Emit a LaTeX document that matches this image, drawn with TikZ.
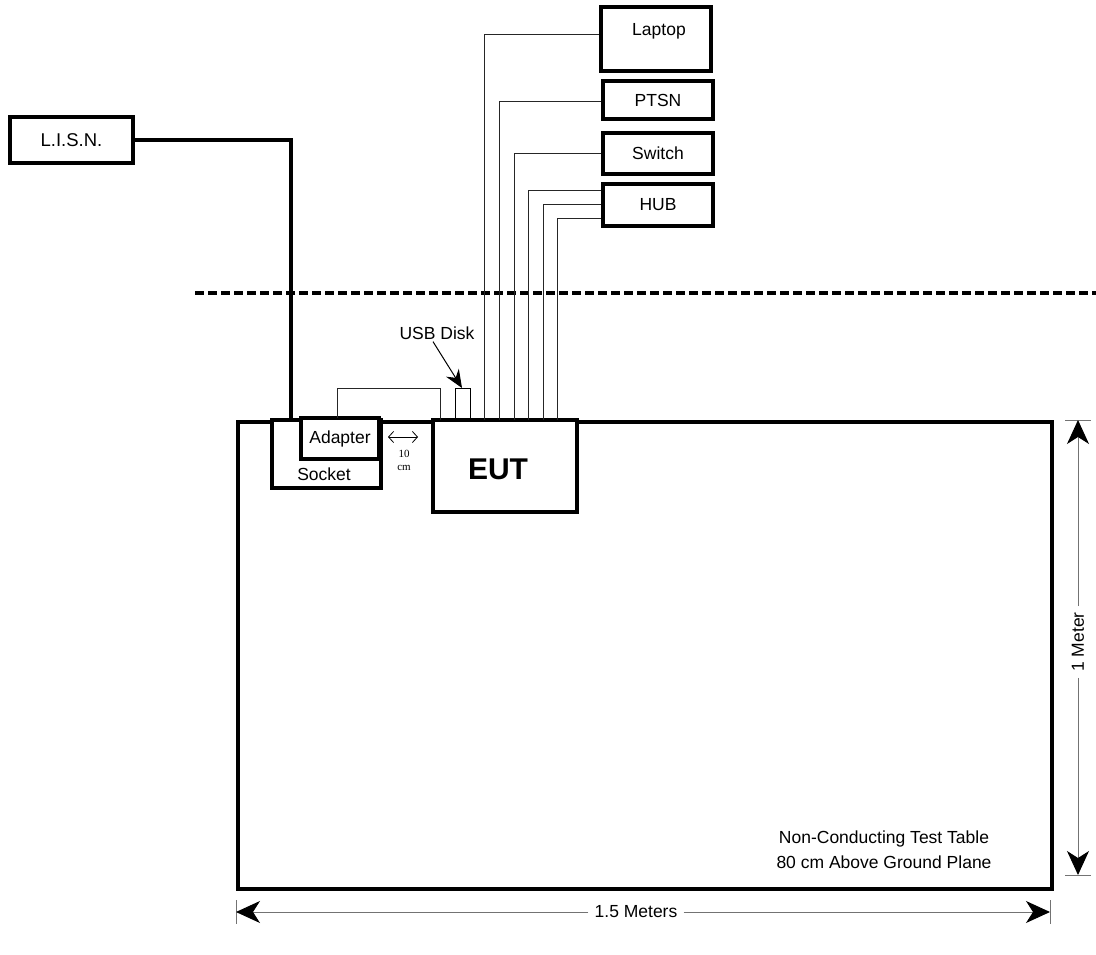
\documentclass[tikz,border=0pt]{standalone}
\usepackage{fontspec}
\setmainfont{Liberation Sans}
\newfontfamily\smallserif{Liberation Serif}
\usetikzlibrary{arrows.meta}
\begin{document}
\begin{tikzpicture}[x=1pt,y=-1pt,
  every node/.style={font=\fontsize{17.5}{21}\selectfont, inner sep=0pt},
  devbox/.style={draw, line width=4pt, fill=white, minimum width=110pt},
  smallbox/.style={draw, line width=3.3pt, fill=white},
  cable/.style={line width=1pt, draw=black!85},
  dimline/.style={line width=1pt, draw=black!55},
  bighead/.style={-{Stealth[length=24pt,width=22pt,inset=7pt,black]}},
  txt/.style={fill=none}]
\useasboundingbox (0,0) rectangle (1096,955);

% table
\node[draw, line width=4pt, minimum width=814pt, minimum height=467pt, anchor=north west] (table) at (236,420) {};
\node[align=center, font=\fontsize{17.5}{25}\selectfont] (tabletext) at (884,850) {Non-Conducting Test Table\\80 cm Above Ground Plane};

% dashed boundary
\coordinate (dashL) at (195,293);
\coordinate (dashR) at (1096,293);
\draw[line width=3.5pt, dash pattern=on 9pt off 4pt] (dashL) -- (dashR);

% LISN
\node[draw, line width=3.5pt, fill=white, minimum width=123pt, minimum height=46pt, font=\fontsize{18.5}{21}\selectfont] (lisn) at (71.5,140) {L.I.S.N.};

% socket and adapter
\node[smallbox, minimum width=109pt, minimum height=68pt] (socket) at (326.5,454) {};
\node (sockettext) at (324,474) {Socket};
\node[smallbox, minimum width=78pt, minimum height=41pt] (adapter) at (340,438.5) {Adapter};
\coordinate (lisnin) at (291,420);
\draw[line width=3.5pt] (lisn.east) -| (lisnin);

% EUT
\node[draw, line width=3.5pt, fill=white, minimum width=144pt, minimum height=92pt] (eut) at (505,466) {};
\node[font=\fontsize{30}{34}\selectfont\bfseries] (euttext) at (498,469) {EUT};

% 10 cm spacing
\coordinate (gapL) at (388,437);
\coordinate (gapR) at (418,437);
\draw[line width=0.8pt, {Straight Barb[length=5pt,width=11pt]}-{Straight Barb[length=5pt,width=11pt]}] (gapL) -- (gapR);
\node[font=\smallserif\fontsize{11}{12}\selectfont, align=center] (gaptext) at (404,460) {10\\[1pt]cm};

% adapter cable
\coordinate (adout) at (337,418);
\coordinate (eutin) at (440,420);
\draw[cable] (adout) -- ++(0,-30) -| (eutin);

% USB disk
\node[draw, line width=1pt, minimum width=15pt, minimum height=32pt, anchor=north west] (usb) at (455,388) {};
\node (usbtext) at (437,333) {USB Disk};
\draw[line width=1pt, -{Stealth[length=18pt,width=15pt,inset=6pt]}] (usbtext.south) ++(-4,2) coordinate (usbarrow) -- ([xshift=-1pt]usb.north);

% peripheral boxes
\node[devbox, minimum height=64pt] (laptop) at (656,39) {};
\node (laptoptext) at (659,31) {Laptop};
\node[devbox, minimum height=38pt] (ptsn) at (658,100) {PTSN};
\node[devbox, minimum height=41pt] (switch) at (658,153.5) {Switch};
\node[devbox, minimum height=42pt] (hub) at (658,205) {HUB};

% EUT ports
\coordinate (p1) at (484,420);
\coordinate (p2) at (499,420);
\coordinate (p3) at (514,420);
\coordinate (p4) at (528,420);
\coordinate (p5) at (543,420);
\coordinate (p6) at (557,420);
\draw[cable] ([yshift=4pt]laptop.west) -| (p1);
\draw[cable] ([yshift=-2pt]ptsn.west) -| (p2);
\draw[cable] (switch.west) -| (p3);
\draw[cable] ([yshift=14pt]hub.west) -| (p4);
\draw[cable] (hub.west) -| (p5);
\draw[cable] ([yshift=-14pt]hub.west) -| (p6);

% vertical dimension
\coordinate (vtop) at (1078,420);
\coordinate (vbot) at (1078,875);
\draw[dimline] (1065,420) -- (1091,420);
\draw[dimline] (1065,875) -- (1091,875);
\node[rotate=90, fill=white, inner xsep=6pt, inner ysep=2pt] (vlabel) at (1078,642) {1 Meter};
\draw[dimline, bighead] (vlabel.east) -- (vtop);
\draw[dimline, bighead] (vlabel.west) -- (vbot);

% horizontal dimension
\coordinate (hleft) at (236,912);
\coordinate (hright) at (1050,912);
\draw[dimline] (236,900) -- (236,924);
\draw[dimline] (1050,900) -- (1050,924);
\node[fill=white, inner xsep=6pt, inner ysep=2pt] (hlabel) at (636,912) {1.5 Meters};
\draw[dimline, bighead] (hlabel.west) -- (hleft);
\draw[dimline, bighead] (hlabel.east) -- (hright);
\end{tikzpicture}
\end{document}
